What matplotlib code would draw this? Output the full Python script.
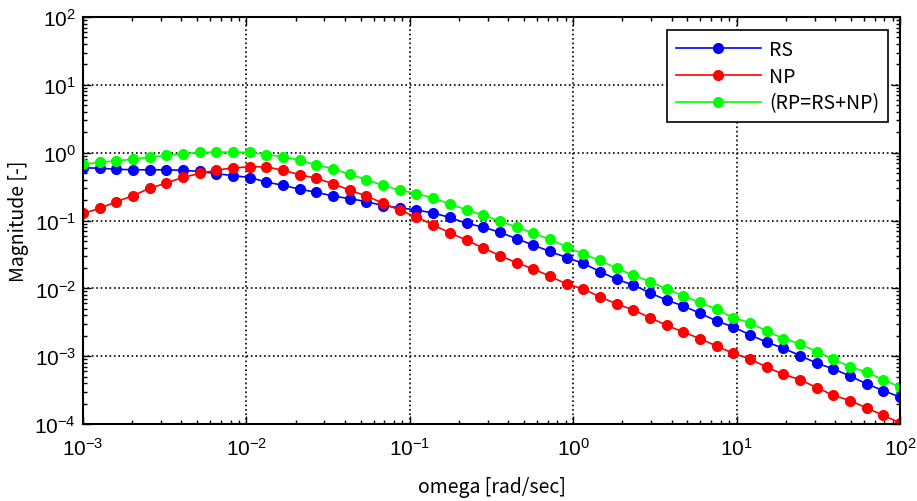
import numpy as np
import matplotlib
matplotlib.use("Agg")
import matplotlib.pyplot as plt

# 50 frequency points, log spaced from 1e-3 to 1e2 rad/sec
omega = np.logspace(-3, 2, 50)

# robust stability
rs = [0.60, 0.59, 0.57, 0.56, 0.56, 0.56, 0.55, 0.53, 0.49, 0.46,
      0.43, 0.37, 0.33, 0.29, 0.26, 0.23, 0.21, 0.19, 0.166, 0.154,
      0.143, 0.129, 0.111, 0.091, 0.080, 0.067, 0.054, 0.0435, 0.035, 0.0285,
      0.0233, 0.0177, 0.0136, 0.0112, 0.0086, 0.0067, 0.0055, 0.0043, 0.0033, 0.0027,
      0.00206, 0.00161, 0.00131, 0.00102, 0.00079, 0.00065, 0.00051, 0.00039, 0.00031, 0.00025]

# nominal performance
np_ = [0.127, 0.151, 0.19, 0.232, 0.30, 0.356, 0.434, 0.494, 0.553, 0.597,
       0.62, 0.62, 0.55, 0.475, 0.42, 0.348, 0.281, 0.229, 0.18, 0.141,
       0.113, 0.086, 0.066, 0.0513, 0.0395, 0.0303, 0.0239, 0.0194, 0.0151, 0.0116,
       0.0098, 0.0075, 0.0059, 0.0048, 0.0037, 0.00285, 0.00227, 0.00181, 0.00141, 0.0011,
       0.00091, 0.00069, 0.00054, 0.00045, 0.000345, 0.000264, 0.000222, 0.000172, 0.000134, 0.000104]

# robust performance
rp = [0.674, 0.72, 0.76, 0.80, 0.857, 0.914, 0.96, 1.01, 1.02, 1.02,
      1.01, 0.94, 0.87, 0.78, 0.66, 0.58, 0.48, 0.40, 0.33, 0.28,
      0.25, 0.215, 0.175, 0.144, 0.119, 0.099, 0.080, 0.065, 0.053, 0.041,
      0.032, 0.0258, 0.0198, 0.0156, 0.0126, 0.0098, 0.0077, 0.0062, 0.0049, 0.0037,
      0.0031, 0.00236, 0.00182, 0.00152, 0.00117, 0.0009, 0.0007, 0.00058, 0.00045, 0.00035]

labels = ['RS', 'NP', '(RP=RS+NP)']
colors = ['#0000ff', '#ff0000', '#00ff00']

plt.rcParams['font.family'] = ['Liberation Sans', 'DejaVu Sans']
plt.rcParams['mathtext.fontset'] = 'custom'
plt.rcParams['mathtext.rm'] = 'Liberation Sans'
plt.rcParams['mathtext.it'] = 'Liberation Sans'

fig = plt.figure(figsize=(9.17, 5.02), dpi=100)
ax = fig.add_axes([0.0905, 0.1534, 0.891, 0.8106])

for y, lab, c in zip([rs, np_, rp], labels, colors):
    ax.loglog(omega, y, '-o', color=c, lw=1.2, ms=7, label=lab)

ax.set_xlim(1e-3, 1e2)
ax.set_ylim(1e-4, 1e2)

ax.grid(True, which='major', color='black', linestyle=':', lw=1.2)
ax.tick_params(which='both', direction='in', top=True, right=True, labelsize=15)
ax.tick_params(axis='x', pad=9)
ax.tick_params(axis='y', pad=5)
ax.tick_params(which='major', length=6, width=1)
ax.tick_params(which='minor', length=3, width=1)
for sp in ax.spines.values():
    sp.set_linewidth(1.5)

jp = ['Noto Sans CJK JP', 'DejaVu Sans']
ax.set_xlabel('omega [rad/sec]', family=jp, fontsize=14, labelpad=13)
ax.set_ylabel('Magnitude [-]', family=jp, fontsize=14, labelpad=4)

leg = ax.legend(loc='upper right', bbox_to_anchor=(0.985, 0.968), borderaxespad=0,
                fancybox=False, edgecolor='black', framealpha=1,
                prop={'family': jp, 'size': 14},
                handlelength=4.4, borderpad=0.45, labelspacing=0.3, handletextpad=0.4)
leg.get_frame().set_linewidth(1.2)

fig.savefig('out.png', dpi=100)
